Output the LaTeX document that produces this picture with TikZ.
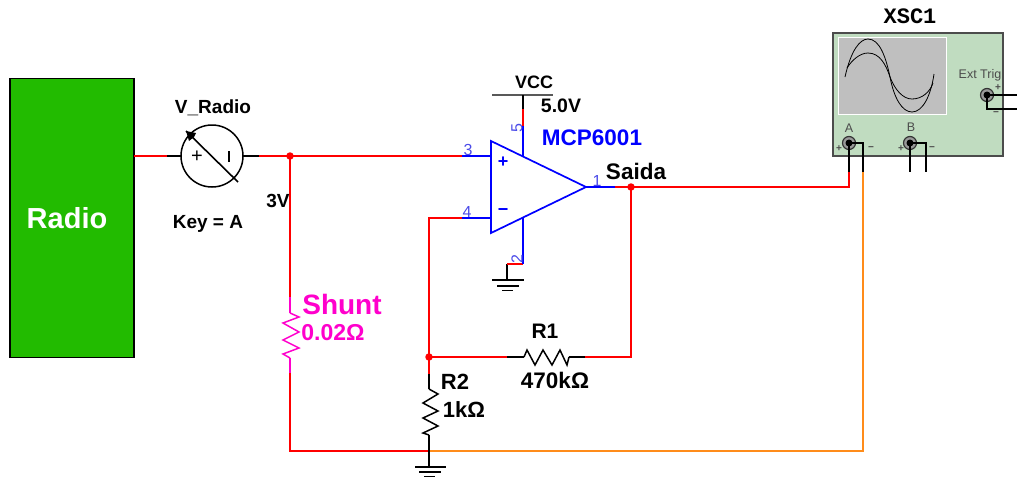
\documentclass[tikz,border=0pt]{standalone}
\usepackage{fontspec}
\setmainfont{Liberation Sans}
\newfontfamily\monobold{Liberation Mono}[BoldFont={Liberation Mono Bold}]
\definecolor{wirered}{HTML}{FF0000}
\definecolor{wireorange}{HTML}{FF8C1A}
\definecolor{radiogreen}{HTML}{22BB00}
\definecolor{pinblue}{HTML}{0000FF}
\definecolor{pinnum}{HTML}{4A4AE8}
\definecolor{shuntpink}{HTML}{FF00CC}
\definecolor{scopegreen}{HTML}{C0DCC0}
\newcommand{\fs}[1]{\fontsize{#1}{#1}\selectfont}
\tikzset{
  redw/.style={draw=wirered,line width=1.5pt},
  orw/.style={draw=wireorange,line width=1.5pt},
  blkw/.style={draw=black,line width=1.5pt},
  bluew/.style={draw=pinblue,line width=1.7pt},
  pinkw/.style={draw=shuntpink,line width=1.5pt},
  dotj/.style={circle,fill=wirered,inner sep=0pt,minimum size=7.5pt},
  lbl/.style={inner sep=0pt,font=\bfseries\fs{#1}},
  lbl/.default=17,
  pinn/.style={inner sep=0pt,text=pinnum,font=\fs{16}},
  term/.style={circle,draw=black!80,fill=black!40,line width=1.2pt,minimum size=13pt,inner sep=0pt},
  termdot/.style={circle,fill=black,inner sep=0pt,minimum size=7pt},
  scopetxt/.style={inner sep=0pt,text=black!70,font=\fs{12.5}},
  gnd/.style={draw=black,line width=1.3pt},
}
\begin{document}
\begin{tikzpicture}[x=1pt,y=-1pt,line join=miter]
\useasboundingbox (0,0) rectangle (1017,477);
% named points
\coordinate (radioR) at (134,156);
\coordinate (mL1) at (167,156);
\coordinate (mL) at (181,156);
\coordinate (mR) at (243,156);
\coordinate (mR1) at (259,156);
\coordinate (p3a) at (462,156);
\coordinate (p3) at (491,156);
\coordinate (p4b) at (429,218);
\coordinate (p4a) at (462,218);
\coordinate (p4) at (491,218);
\coordinate (out) at (586,187);
\coordinate (out1) at (615,187);
\coordinate (scA) at (849,187);
\coordinate (scAr) at (849,172);
\coordinate (scOr) at (863,172);
\coordinate (scOb) at (863,451);
\coordinate (r1out) at (631,357);
\coordinate (r1b) at (585,357);
\coordinate (r1a) at (524,357);
\coordinate (r1c) at (569,357);
\coordinate (r1l) at (507,357);
\coordinate (r2a) at (429,374);
\coordinate (r2b) at (429,389);
\coordinate (r2c) at (429,435);
\coordinate (gnode) at (429,451);
\coordinate (g1) at (429,467);
\coordinate (shl) at (290,451);
\coordinate (sh1) at (290,297);
\coordinate (sh2) at (290,313);
\coordinate (sh3) at (290,358);
\coordinate (sh4) at (290,373);
\coordinate (v0) at (523,95);
\coordinate (v1) at (523,109);
\coordinate (v2) at (523,126);
\coordinate (v3) at (523,156.5);
\coordinate (n0) at (523,217.5);
\coordinate (n1) at (523,264);
\coordinate (n2) at (507,264);
\coordinate (n3) at (507,280);
% radio
\node[draw=black,line width=1.6pt,fill=radiogreen,minimum width=124pt,minimum height=279pt,inner sep=0pt] (radio) at (72,218) {};
\node[inner sep=0pt,text=white,font=\bfseries\fs{29}] (radiot) at (67,218) {Radio};
% wires
\draw[redw] (radioR) -- (mL1);
\draw[blkw] (mL1) -- (mL);
\draw[blkw] (mR) -- (mR1);
\draw[redw] (mR1) -- (p3a);
\draw[redw] (p4a) -- (p4b) -- (r2a);
\draw[blkw] (r2a) -- (r2b);
\draw[redw] (out1) -- (scA) -- (scAr);
\draw[orw] (scOr) -- (scOb) -- (gnode);
\draw[redw] (gnode) -- (shl) -- (sh4);
\draw[redw] (sh1) -- (290,156);
\draw[pinkw] (sh1) -- (sh2);
\draw[pinkw] (sh3) -- (sh4);
\draw[redw] (631,187) -- (r1out) -- (r1b);
\draw[blkw] (r1b) -- (r1c);
\draw[blkw] (r1a) -- (r1l);
\draw[redw] (r1l) -- (429,357);
\draw[blkw] (r2c) -- (g1);
% resistors
\draw[pinkw] (sh2) -- (299,317) -- (283,323) -- (299,332) -- (283,340) -- (299,348) -- (283,354) -- (sh3);
\draw[blkw] (r1a) -- (527,350) -- (535,365) -- (543,350) -- (552,365) -- (560,350) -- (567,365) -- (r1c);
\draw[blkw] (r2b) -- (438,394) -- (423,403) -- (438,411) -- (423,418) -- (438,426) -- (423,433) -- (r2c);
% grounds
\draw[gnd] (415,467) -- (446,467) (419,472) -- (441,472) (424,476.5) -- (435,476.5);
\draw[gnd] (492,280) -- (524,280) (497,286) -- (519,286) (502,290.5) -- (513,290.5);
\draw[blkw] (n2) -- (n3);
\draw[redw] (n1) -- (n2);
% VCC
\draw[draw=black!65,line width=1.3pt] (492,95) -- (553,95);
\draw[blkw] (v0) -- (v1);
\draw[redw] (v1) -- (v2);
\draw[bluew] (v2) -- (v3);
\draw[bluew] (n0) -- (n1);
% op amp
\draw[bluew] (p3a) -- (p3);
\draw[bluew] (p4a) -- (p4);
\draw[bluew] (out) -- (out1);
\draw[bluew,line join=miter] (491,141) -- (out) -- (491,233) -- cycle;
\node[inner sep=0pt,text=pinblue,font=\bfseries\fs{18}] (plus) at (503,162) {+};
\node[inner sep=0pt,text=pinblue,font=\bfseries\fs{18}] (minus) at (503,212) {\textminus};
\node[pinn] (n3l) at (468,150) {3};
\node[pinn] (n4l) at (467,212) {4};
\node[pinn] (n1l) at (597,181) {1};
\node[pinn,rotate=90] (n5l) at (517,128) {5};
\node[pinn,rotate=90] (n2l) at (517,259) {2};
% junctions
\node[dotj] (j1) at (290,156) {};
\node[dotj] (j2) at (631,187) {};
\node[dotj] (j3) at (429,357) {};
% meter
\node[circle,draw=black,line width=1.5pt,fill=white,minimum size=62pt,inner sep=0pt] (meter) at (212,156) {};
\draw[black,line width=1.6pt] (186,131) -- (238,182);
\fill[black] (186,131) -- (196,133) -- (194,137) -- (189,141) -- cycle;
\node[inner sep=0pt,font=\fs{20}] (mplus) at (197,157) {+};
\draw[black,line width=1.5pt] (229,151) -- (229,162);
% scope
\node[draw=black!70,line width=1.2pt,fill=scopegreen,minimum width=170pt,minimum height=123pt,inner sep=0pt] (scope) at (918,94.5) {};
\node[draw=white,line width=1pt,fill=black!25,minimum width=108pt,minimum height=77pt,inner sep=0pt] (screen) at (892,75.5) {};
\draw[black,line width=.8pt] (845,77) .. controls (851,50) and (860,39) .. (868,39) .. controls (880,39) and (886,58) .. (890,77) .. controls (894,98) and (902,112) .. (912,112) .. controls (923,112) and (931,95) .. (934,74);
\draw[black,line width=.8pt] (847,68) .. controls (852,60) and (860,53) .. (868,53) .. controls (880,53) and (886,65) .. (890,77) .. controls (895,90) and (903,99) .. (912,99) .. controls (922,99) and (930,92) .. (933,83);
\node[term] (tA) at (849,143) {};
\node[term] (tB) at (910,143) {};
\node[term] (tE) at (987,95) {};
\coordinate (tAs) at (863,143);
\coordinate (tBs) at (926,143);
\coordinate (tBe) at (910,172);
\coordinate (tBf) at (926,172);
\coordinate (tEa) at (1017,95);
\coordinate (tEb) at (987,109);
\coordinate (tEc) at (1017,109);
\draw[blkw] (tA.center) -- (scAr);
\draw[blkw] (tA.center) -- (tAs) -- (scOr);
\draw[blkw] (tB.center) -- (tBe);
\draw[blkw] (tB.center) -- (tBs) -- (tBf);
\draw[blkw] (tE.center) -- (tEa);
\draw[blkw] (tE.center) -- (tEb) -- (tEc);
\node[termdot] (tAd) at (tA) {};
\node[termdot] (tBd) at (tB) {};
\node[termdot] (tEd) at (tE) {};
\node[scopetxt] (la) at (849,128) {A};
\node[scopetxt] (lb) at (911,127) {B};
\node[scopetxt] (lt) at (980,75) {Ext Trig};
\node[scopetxt,font=\bfseries\fs{10}] (pa) at (839,149) {+};
\node[scopetxt,font=\bfseries\fs{10}] (ma) at (871,149) {\textminus};
\node[scopetxt,font=\bfseries\fs{10}] (pb) at (901,149) {+};
\node[scopetxt,font=\bfseries\fs{10}] (mb) at (932,149) {\textminus};
\node[scopetxt,font=\bfseries\fs{10}] (pe) at (998,88) {+};
\node[scopetxt,font=\bfseries\fs{10}] (me) at (996,114) {\textminus};
\node[inner sep=0pt,font=\monobold\bfseries\fs{22}] (xsc) at (910,16) {XSC1};
% labels
\node[lbl=19] (vr) at (213,108) {V\_Radio};
\node[lbl=19] (key) at (208,224) {Key = A};
\node[lbl=19] (v3v) at (278,201) {3V};
\node[lbl=28,text=shuntpink] (shunt) at (342,304) {Shunt};
\node[lbl=23,text=shuntpink] (shv) at (333,333) {0.02Ω};
\node[lbl=21] (r1t) at (545,331) {R1};
\node[lbl=22.5] (r1v) at (555,380) {470kΩ};
\node[lbl=22] (r2t) at (455,382) {R2};
\node[lbl=22] (r2v) at (464,410) {1kΩ};
\node[lbl=18] (vcc) at (534,82) {VCC};
\node[lbl=19.5] (v5) at (561,106) {5.0V};
\node[lbl=22.5,text=pinblue] (mcp) at (592,138) {MCP6001};
\node[lbl=22.5] (sa) at (636,171) {Saida};
\end{tikzpicture}
\end{document}
